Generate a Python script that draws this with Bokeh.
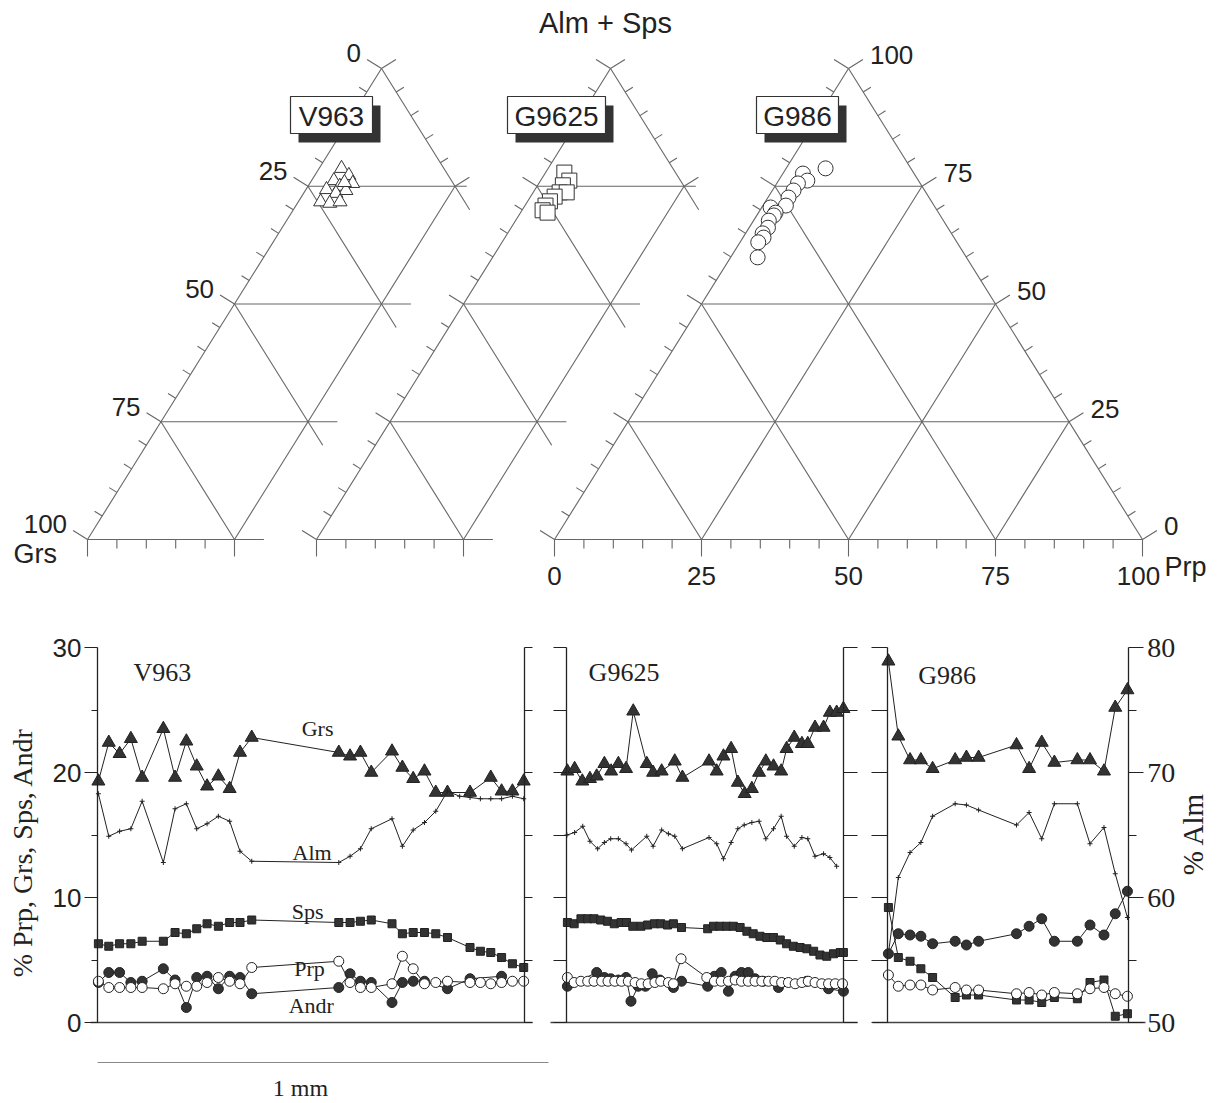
import math
import numpy as np
from bokeh.plotting import figure
from bokeh.models import Range1d, LinearAxis, FixedTicker, Label
from bokeh.layouts import column, row
from bokeh.embed import file_html
from bokeh.resources import INLINE
from bokeh.core.properties import value

# ======================= DATA =======================
SAMPLES = ["V963", "G9625", "G986"]
TERN_TICKS = [0, 25, 50, 75, 100]

# ternary compositions (%): Alm+Sps, Grs, Prp
V963_T_ALMSPS = [78.8, 77.3, 75.6, 76.2, 75.0, 74.1, 74.3, 73.5, 71.7, 71.4, 71.7, 75.8]
V963_T_GRS    = [17.4, 16.9, 17.1, 20.0, 19.6, 19.0, 22.2, 21.0, 24.5, 23.1, 21.2, 18.4]
V963_T_PRP    = [3.8, 5.8, 7.3, 3.8, 5.4, 6.9, 3.5, 5.5, 3.8, 5.5, 7.1, 5.8]

G9625_T_ALMSPS = [77.9, 76.2, 75.2, 73.7, 73.7, 72.8, 71.8, 70.9, 69.9, 69.4]
G9625_T_GRS    = [18.9, 18.9, 20.5, 21.8, 20.6, 23.1, 24.4, 25.6, 26.6, 26.0]
G9625_T_PRP    = [3.2, 4.9, 4.3, 4.5, 5.7, 4.1, 3.8, 3.5, 3.5, 4.6]

G986_T_ALMSPS = [78.8, 77.7, 76.2, 75.6, 74.1, 72.6, 70.9, 70.5, 69.4, 68.8, 67.7, 66.2, 65.0, 64.1, 63.1, 59.9]
G986_T_GRS    = [14.5, 18.9, 18.9, 20.8, 22.3, 23.9, 25.2, 28.0, 27.7, 28.3, 29.7, 30.6, 32.1, 32.4, 33.8, 35.5]
G986_T_PRP    = [6.7, 3.4, 4.9, 3.6, 3.6, 3.5, 3.9, 1.5, 2.9, 2.9, 2.6, 3.2, 2.9, 3.5, 3.1, 4.6]

# profiles: distance (um) and mol %
V963_LEN = 947
V963_X = [2, 25, 49, 74, 99, 146, 172, 197, 220, 243, 268, 293, 316, 342, 535, 560, 583, 607,
          653, 676, 700, 725, 750, 776, 803, 826, 849, 872, 896, 920, 945]
V963_GRS_X = [2, 25, 49, 74, 99, 146, 172, 197, 220, 243, 268, 293, 316, 342, 535, 560, 583, 607,
              653, 676, 700, 725, 750, 776, 826, 872, 896, 920, 945]
V963_GRS = [19.3, 22.4, 21.5, 22.7, 19.6, 23.5, 19.6, 22.5, 20.5, 18.9, 19.7, 18.7, 21.6, 22.8, 21.6,
            21.3, 21.6, 20.0, 21.7, 20.4, 19.5, 20.1, 18.4, 18.4, 18.4, 19.6, 18.5, 18.5, 19.3]
V963_ALM = [68.3, 64.9, 65.3, 65.5, 67.7, 62.8, 67.1, 67.5, 65.5, 65.9, 66.5, 66.1, 63.7, 62.9, 62.8,
            63.3, 63.9, 65.5, 66.3, 64.1, 65.4, 66.0, 66.9, 68.5, 68.1, 68.0, 67.9, 67.9, 67.9, 68.1, 67.9]
V963_SP_X = [2, 25, 49, 74, 99, 146, 172, 197, 220, 243, 268, 293, 316, 342, 535, 560, 583, 607,
             653, 676, 700, 725, 750, 776, 826, 849, 872, 896, 920, 945]
V963_SPS = [6.3, 6.1, 6.3, 6.3, 6.5, 6.5, 7.2, 7.1, 7.5, 7.9, 7.7, 8.0, 8.0, 8.2, 8.0, 8.0, 8.1, 8.2,
            7.9, 7.1, 7.2, 7.2, 7.1, 6.8, 6.0, 5.7, 5.6, 5.2, 4.7, 4.4]
V963_PRP = [3.3, 2.8, 2.8, 2.8, 2.8, 2.7, 3.1, 2.9, 2.9, 3.2, 3.6, 3.3, 3.1, 4.4, 4.9, 3.2, 2.8, 2.8,
            3.1, 5.3, 4.3, 3.1, 3.2, 3.3, 3.2, 3.2, 3.1, 3.2, 3.3, 3.3]
V963_ANDR_X = [2, 25, 49, 74, 99, 146, 172, 197, 220, 243, 268, 293, 316, 342, 535, 560, 583, 607,
               653, 676, 700, 725, 776, 826, 896]
V963_ANDR = [3.2, 4.0, 4.0, 3.2, 3.3, 4.3, 3.4, 1.2, 3.6, 3.7, 2.7, 3.7, 3.6, 2.3, 2.8, 3.9, 3.3, 3.2,
             1.6, 3.2, 3.3, 3.3, 2.7, 3.5, 3.7]

G9625_LEN = 614
G9625_GRS_X = [2, 18, 35, 52, 67, 84, 99, 115, 132, 148, 178, 192, 211, 240, 257, 316, 333, 348, 365,
               380, 395, 411, 427, 442, 459, 476, 488, 505, 522, 535, 551, 570, 584, 599, 614]
G9625_GRS = [20.1, 20.3, 19.3, 19.5, 19.7, 20.7, 20.1, 20.7, 20.3, 24.9, 20.7, 20.0, 20.1, 20.9, 19.6,
             20.9, 20.1, 21.3, 21.9, 19.2, 18.3, 18.7, 20.0, 20.9, 20.5, 20.1, 21.9, 22.8, 22.3, 22.3,
             23.6, 23.6, 24.8, 24.8, 25.1]
G9625_ALM_X = [1, 18, 36, 52, 69, 84, 98, 115, 132, 144, 178, 192, 211, 226, 240, 257, 316, 333, 348,
               365, 380, 394, 411, 427, 442, 459, 476, 488, 505, 522, 535, 551, 570, 584, 599]
G9625_ALM = [65.0, 65.2, 65.7, 64.5, 63.9, 64.4, 64.7, 64.7, 64.3, 63.8, 64.9, 64.1, 65.4, 65.1, 64.9,
             63.9, 64.8, 64.3, 63.1, 64.4, 65.5, 65.8, 66.0, 66.1, 64.7, 65.5, 66.5, 64.9, 64.1, 64.8,
             64.7, 63.3, 63.5, 63.2, 62.5]
G9625_SPS_X = [2, 17, 32, 47, 61, 76, 91, 106, 121, 133, 147, 165, 180, 195, 209, 224, 237, 255, 313,
               326, 340, 355, 370, 385, 400, 414, 429, 444, 459, 474, 488, 503, 518, 533, 548, 562,
               577, 592, 607, 614]
G9625_SPS = [8.0, 7.9, 8.3, 8.3, 8.3, 8.2, 8.1, 7.9, 8.0, 8.0, 7.7, 7.7, 7.8, 7.9, 7.9, 7.8, 7.9, 7.6,
             7.5, 7.7, 7.7, 7.7, 7.7, 7.6, 7.3, 7.1, 6.9, 6.8, 6.8, 6.6, 6.3, 6.1, 6.0, 5.9, 5.7, 5.4,
             5.3, 5.5, 5.6, 5.6]
G9625_PRP_X = [2, 17, 32, 47, 61, 78, 92, 107, 122, 137, 152, 166, 181, 196, 209, 226, 237, 254, 311,
               328, 343, 359, 374, 388, 403, 418, 433, 448, 462, 477, 492, 507, 522, 536, 551, 566,
               581, 596, 612]
G9625_PRP = [3.6, 3.2, 3.3, 3.3, 3.3, 3.3, 3.3, 3.3, 3.3, 3.3, 3.2, 3.1, 3.1, 3.2, 3.3, 3.2, 3.1, 5.1,
             3.6, 3.3, 3.3, 3.3, 3.4, 3.3, 3.3, 3.3, 3.3, 3.3, 3.3, 3.2, 3.2, 3.1, 3.2, 3.3, 3.2, 3.1,
             3.1, 3.1, 3.1]
G9625_ANDR_X = [2, 67, 84, 98, 115, 132, 143, 159, 175, 190, 207, 237, 255, 313, 328, 343, 359, 374,
                388, 403, 418, 436, 470, 533, 581, 614]
G9625_ANDR = [2.9, 4.0, 3.6, 3.5, 3.4, 3.6, 1.7, 2.9, 2.9, 3.9, 3.4, 2.8, 3.3, 2.9, 3.7, 4.0, 2.5, 3.7,
              4.0, 4.0, 3.5, 3.3, 2.8, 3.3, 2.7, 2.5]

G986_LEN = 534
G986_X = [2, 24, 50, 74, 100, 150, 175, 202, 286, 314, 342, 370, 421, 449, 480, 505, 532]
G986_GRS = [28.9, 22.9, 21.0, 21.0, 20.3, 21.0, 21.2, 21.2, 22.2, 20.3, 22.4, 20.8, 21.0, 21.0, 20.1, 25.2, 26.6]
G986_ALM = [55.5, 61.6, 63.6, 64.4, 66.5, 67.5, 67.4, 67.0, 65.8, 66.8, 64.7, 67.5, 67.5, 64.3, 65.6, 61.9, 58.4]
G986_SPS = [9.2, 5.2, 4.9, 4.3, 3.6, 2.0, 2.2, 2.2, 1.8, 1.8, 1.6, 2.0, 1.9, 3.2, 3.4, 0.5, 0.7]
G986_PRP = [3.8, 2.9, 3.0, 3.0, 2.6, 2.8, 2.6, 2.6, 2.3, 2.4, 2.2, 2.4, 2.3, 2.7, 2.8, 2.3, 2.1]
G986_ANDR = [5.5, 7.1, 7.0, 6.9, 6.3, 6.5, 6.2, 6.5, 7.1, 7.7, 8.3, 6.5, 6.5, 7.8, 7.0, 8.7, 10.5]

LEFT_TICKS = [0, 10, 20, 30]
LEFT_MINOR = [5, 15, 25]
ALM_TICKS = [50, 60, 70, 80]
ALM_MINOR = [55, 65, 75]
ALL5 = [0, 5, 10, 15, 20, 25, 30]
ALM_OFFSET = 50
SCALE_BAR_UM = 1000

# ======================= STYLE / LAYOUT =======================
SANS = "Liberation Sans"
SERIF = "Liberation Serif"
INK = "#222222"
GRID = "#666666"
PAGE_W = 1216
TOP_H = 594
ROW_H = 446
BAR_H = 63

# ternary geometry (page px)
TW, TH = 588.0, 471.0
BASE_Y = 539.0
TRI_LEFT = {"V963": 87.0, "G9625": 316.0, "G986": 554.0}
CLIP = 0.30
TL_MAJ, TL_MIN = 17.0, 9.0
_len = math.hypot(TW / 2, TH)
N_LEFT = (-TH / _len, -(TW / 2) / _len)
N_RIGHT = (TH / _len, -(TW / 2) / _len)
N_BOT = (0.0, 1.0)


def tern_xy(a, g, p, lx):
    a = np.asarray(a, float); g = np.asarray(g, float); p = np.asarray(p, float)
    s = a + g + p
    a, p = a / s, p / s
    return lx + TW * (p + a / 2.0), BASE_Y - TH * a


def tri_segments(partial):
    segs = []
    if partial:
        c = CLIP
        segs += [((1, 0, 0), (0, 1, 0)), ((0, 1, 0), (0, 1 - c, c)), ((1, 0, 0), (1 - c, 0, c))]
        for lv in (0.25, 0.5, 0.75):
            pe = min(c, 1 - lv + 0.02)
            segs.append(((lv, 1 - lv, 0), (lv, 1 - lv - pe, pe)))
            pe = min(c, 1 - lv)
            segs.append(((1 - lv, lv, 0), (1 - lv - pe, lv, pe)))
        segs.append(((0, 0.75, 0.25), (0.75, 0, 0.25)))
    else:
        segs += [((1, 0, 0), (0, 1, 0)), ((0, 1, 0), (0, 0, 1)), ((1, 0, 0), (0, 0, 1))]
        for lv in (0.25, 0.5, 0.75):
            segs.append(((lv, 1 - lv, 0), (lv, 0, 1 - lv)))
            segs.append(((1 - lv, lv, 0), (0, lv, 1 - lv)))
            segs.append(((0, 1 - lv, lv), (1 - lv, 0, lv)))
    return segs


top = figure(width=PAGE_W, height=TOP_H, x_range=Range1d(0, PAGE_W),
             y_range=Range1d(TOP_H, 0), output_backend="svg", toolbar_location=None,
             min_border=0, x_axis_location=None, y_axis_location=None)
top.outline_line_color = None
top.grid.visible = False

for name in SAMPLES:
    lx = TRI_LEFT[name]
    partial = name != "G986"
    segs = tri_segments(partial)
    x0, y0 = tern_xy([s[0][0] for s in segs], [s[0][1] for s in segs], [s[0][2] for s in segs], lx)
    x1, y1 = tern_xy([s[1][0] for s in segs], [s[1][1] for s in segs], [s[1][2] for s in segs], lx)
    top.segment(x0, y0, x1, y1, line_color=GRID, line_width=1.1)

    tx0, ty0, tx1, ty1 = [], [], [], []
    for v in range(0, 101, 5):
        ln = TL_MAJ if v % 25 == 0 else TL_MIN
        pts = [((100 - v, v, 0), N_LEFT)]
        if v <= (25 if partial else 100):
            pts.append(((0, 100 - v, v), N_BOT))
        if v >= (75 if partial else 0):
            pts.append(((v, 0, 100 - v), N_RIGHT))
        for (a, g, p), n in pts:
            x, y = tern_xy(a, g, p, lx)
            tx0.append(float(x)); ty0.append(float(y))
            tx1.append(float(x) + ln * n[0]); ty1.append(float(y) + ln * n[1])
    top.segment(tx0, ty0, tx1, ty1, line_color=GRID, line_width=1.1)

# tick labels
lxv = TRI_LEFT["V963"]
gx, gy = tern_xy([100 - v for v in TERN_TICKS], TERN_TICKS, [0] * 5, lxv)
top.text(gx + TL_MAJ * N_LEFT[0] - 6, gy + TL_MAJ * N_LEFT[1] - 6, text=[str(v) for v in TERN_TICKS],
         text_font=value(SANS), text_font_size="26px", text_align="right", text_baseline="middle",
         text_color=INK)
lxg = TRI_LEFT["G986"]
ax_, ay_ = tern_xy(TERN_TICKS, [0] * 5, [100 - v for v in TERN_TICKS], lxg)
top.text(ax_ + TL_MAJ * N_RIGHT[0] + 7, ay_ + TL_MAJ * N_RIGHT[1] - 4, text=[str(v) for v in TERN_TICKS],
         text_font=value(SANS), text_font_size="26px", text_align="left", text_baseline="middle",
         text_color=INK)
bx_, by_ = tern_xy([0] * 5, [100 - v for v in TERN_TICKS], TERN_TICKS, lxg)
top.text(bx_ - np.array([0, 0, 0, 0, 4]), by_ + TL_MAJ + 10, text=[str(v) for v in TERN_TICKS],
         text_font=value(SANS), text_font_size="26px", text_align="center", text_baseline="top",
         text_color=INK)

top.add_layout(Label(x=605, y=22, text="Alm + Sps", text_font=SANS, text_font_size="29px",
                     text_align="center", text_baseline="middle", text_color=INK))
top.add_layout(Label(x=13, y=553, text="Grs", text_font=SANS, text_font_size="27px",
                     text_align="left", text_baseline="middle", text_color=INK))
top.add_layout(Label(x=1164, y=566, text="Prp", text_font=SANS, text_font_size="27px",
                     text_align="left", text_baseline="middle", text_color=INK))

# sample boxes
BOXES = {"V963": (331, 82), "G9625": (556, 98), "G986": (797, 82)}
BOX_T, BOX_B, SH_X, SH_Y = 96, 133, 8, 9
for name in SAMPLES:
    cx, w = BOXES[name]
    top.quad(left=[cx - w / 2 + SH_X], right=[cx + w / 2 + SH_X], top=[BOX_T + SH_Y],
             bottom=[BOX_B + SH_Y], fill_color="#333333", line_color=None)
    top.quad(left=[cx - w / 2], right=[cx + w / 2], top=[BOX_T], bottom=[BOX_B],
             fill_color="white", line_color="#333333", line_width=1.2)
    top.text([cx], [(BOX_T + BOX_B) / 2 + 1], text=[name], text_font=value(SANS),
             text_font_size="28px", text_align="center", text_baseline="middle", text_color=INK)

# compositions
for name, a, g, p, mk, sz in [
    ("V963", V963_T_ALMSPS, V963_T_GRS, V963_T_PRP, "triangle", 14),
    ("G9625", G9625_T_ALMSPS, G9625_T_GRS, G9625_T_PRP, "square", 15),
    ("G986", G986_T_ALMSPS, G986_T_GRS, G986_T_PRP, "circle", 15),
]:
    x, y = tern_xy(a, g, p, TRI_LEFT[name])
    top.scatter(x, y, marker=mk, size=sz, fill_color="white", line_color="#333333", line_width=1)

# ======================= PROFILES =======================
PX_PER_UM = 0.451
PX_PER_PCT = 12.5
ROW_TOP = TOP_H
ZERO_Y = 1022.0

common_ax = dict(axis_line_color=INK, axis_line_width=1.3, major_tick_line_color=INK,
                 minor_tick_line_color=INK, major_tick_line_width=1.2, minor_tick_line_width=1.2,
                 major_tick_in=0, minor_tick_in=0, major_label_text_color=INK)


def make_panel(fig_l, fig_r, ax_px, length, ov_l, ov_r):
    s = PX_PER_UM
    y_lo = (ZERO_Y - (ROW_TOP + ROW_H)) / PX_PER_PCT
    y_hi = (ZERO_Y - ROW_TOP) / PX_PER_PCT
    p = figure(width=int(fig_r - fig_l), height=ROW_H,
               x_range=Range1d((fig_l - ax_px) / s, (fig_r - ax_px) / s),
               y_range=Range1d(y_lo, y_hi), output_backend="svg", toolbar_location=None,
               min_border=0, x_axis_location=None, y_axis_location=None)
    p.extra_y_ranges = {"alm": Range1d(y_lo + ALM_OFFSET, y_hi + ALM_OFFSET)}
    p.outline_line_color = None
    p.grid.visible = False
    bottom = LinearAxis(fixed_location=0, bounds=(-ov_l / s, length + ov_r / s),
                        ticker=FixedTicker(ticks=[], minor_ticks=[]), major_tick_out=0,
                        minor_tick_out=0, **common_ax)
    bottom.axis_line_color = "#444444"
    p.add_layout(bottom, "below")
    return p


def tick_only_axis(loc, tick_len):
    return LinearAxis(fixed_location=loc, bounds=(0, 30),
                      ticker=FixedTicker(ticks=[], minor_ticks=ALL5),
                      major_tick_out=0, minor_tick_out=tick_len, **common_ax)


def add_series(p, xs):
    (gx, g), (ax, a), (sx, sp), (px, pr), (dx, d) = xs
    p.line(gx, g, line_color=INK, line_width=1)
    p.scatter(gx, g, marker="triangle", size=13, fill_color="#333333", line_color=INK)
    p.line(ax, a, line_color=INK, line_width=1, y_range_name="alm")
    p.scatter(ax, a, marker="cross", size=5, line_color=INK, y_range_name="alm")
    p.line(sx, sp, line_color=INK, line_width=1)
    p.scatter(sx, sp, marker="square", size=8, fill_color="#333333", line_color=INK)
    p.line(dx, d, line_color=INK, line_width=1)
    p.scatter(dx, d, marker="circle", size=10, fill_color="#333333", line_color=INK)
    p.line(px, pr, line_color=INK, line_width=1)
    p.scatter(px, pr, marker="circle", size=10, fill_color="white", line_color=INK)


# ---- V963 panel
f1 = make_panel(0, 545, 97, V963_LEN, 7, 8)
f1.add_layout(LinearAxis(fixed_location=0, bounds=(0, 30),
                         ticker=FixedTicker(ticks=LEFT_TICKS, minor_ticks=LEFT_MINOR),
                         major_tick_out=13, minor_tick_out=6, major_label_standoff=3,
                         major_label_text_font=SANS, major_label_text_font_size="26px", **common_ax), "left")
f1.add_layout(tick_only_axis(V963_LEN, 8), "right")
add_series(f1, [(V963_GRS_X, V963_GRS), (V963_X, V963_ALM), (V963_SP_X, V963_SPS),
                (V963_SP_X, V963_PRP), (V963_ANDR_X, V963_ANDR)])
f1.add_layout(Label(x=-166, y=13.6, angle=math.pi / 2, text="% Prp, Grs, Sps, Andr", text_font=SERIF,
                    text_font_size="28px", text_align="center", text_baseline="middle", text_color=INK))
f1.add_layout(Label(x=80, y=28.0, text="V963", text_font=SERIF, text_font_size="26px",
                    text_align="left", text_baseline="middle", text_color=INK))
for t, xx, yy in [("Grs", 488, 23.5), ("Alm", 476, 13.6), ("Sps", 466, 8.9), ("Prp", 470, 4.3), ("Andr", 474, 1.4)]:
    f1.add_layout(Label(x=xx, y=yy, text=t, text_font=SERIF, text_font_size="22px",
                        text_align="center", text_baseline="middle", text_color=INK))

# ---- G9625 panel
f2 = make_panel(545, 862, 566, G9625_LEN, 16, 14)
f2.add_layout(tick_only_axis(0, 13), "left")
f2.add_layout(tick_only_axis(G9625_LEN, 14), "right")
add_series(f2, [(G9625_GRS_X, G9625_GRS), (G9625_ALM_X, G9625_ALM), (G9625_SPS_X, G9625_SPS),
                (G9625_PRP_X, G9625_PRP), (G9625_ANDR_X, G9625_ANDR)])
f2.add_layout(Label(x=49, y=28.0, text="G9625", text_font=SERIF, text_font_size="26px",
                    text_align="left", text_baseline="middle", text_color=INK))

# ---- G986 panel
f3 = make_panel(862, PAGE_W, 887, G986_LEN, 15, 17)
f3.add_layout(tick_only_axis(0, 16), "left")
f3.add_layout(LinearAxis(y_range_name="alm", fixed_location=G986_LEN, bounds=(50, 80),
                         ticker=FixedTicker(ticks=ALM_TICKS, minor_ticks=ALM_MINOR),
                         major_tick_out=15, minor_tick_out=8, major_label_standoff=4,
                         major_label_text_font=SERIF, major_label_text_font_size="28px", **common_ax), "right")
add_series(f3, [(G986_X, G986_GRS), (G986_X, G986_ALM), (G986_X, G986_SPS),
                (G986_X, G986_PRP), (G986_X, G986_ANDR)])
f3.add_layout(Label(x=68, y=27.8, text="G986", text_font=SERIF, text_font_size="26px",
                    text_align="left", text_baseline="middle", text_color=INK))
f3.add_layout(Label(x=678, y=15.1, angle=math.pi / 2, text="% Alm", text_font=SERIF,
                    text_font_size="29px", text_align="center", text_baseline="middle", text_color=INK))

# ---- scale bar
BAR_TOP = ROW_TOP + ROW_H
sb = figure(width=PAGE_W, height=BAR_H,
            x_range=Range1d((0 - 97) / PX_PER_UM, (PAGE_W - 97) / PX_PER_UM),
            y_range=Range1d(BAR_TOP + BAR_H, BAR_TOP), output_backend="svg", toolbar_location=None,
            min_border=0, x_axis_location=None, y_axis_location=None)
sb.outline_line_color = None
sb.grid.visible = False
sb.line([0, SCALE_BAR_UM], [1062, 1062], line_color="#888888", line_width=1.2)
sb.add_layout(Label(x=450, y=1087, text="1 mm", text_font=SERIF, text_font_size="24px",
                    text_align="center", text_baseline="middle", text_color=INK))

layout = column(top, row(f1, f2, f3), sb)
open("out.html", "w").write(file_html(layout, INLINE))
